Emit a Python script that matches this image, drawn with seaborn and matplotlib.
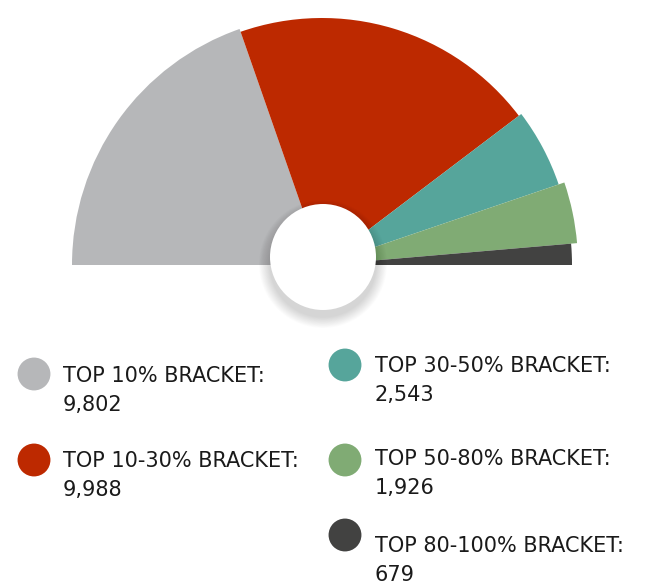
import matplotlib
matplotlib.use("Agg")
import matplotlib.pyplot as plt
import seaborn as sns
import pandas as pd
from matplotlib.patches import Circle

# data
brackets = ["TOP 10% BRACKET:", "TOP 10-30% BRACKET:", "TOP 30-50% BRACKET:",
            "TOP 50-80% BRACKET:", "TOP 80-100% BRACKET:"]
counts = [9802, 9988, 2543, 1926, 679]
colors = ["#b6b7b9", "#bd2900", "#56a59b", "#80ab74", "#424241"]

# legend layout (pixel coords, y from top)
leg_x = [34, 34, 345, 345, 345]
leg_y = [374, 460, 365, 460, 535]
txt_x = [63, 63, 375, 375, 375]
txt_base = [382, 467, 372, 465, 552]

W, H = 658, 581
sns.set_theme(style="white")
plt.rcParams['font.family'] = ['DejaVu Sans']

fig = plt.figure(figsize=(W / 100, H / 100), dpi=100)
ax = fig.add_axes([0, 0, 1, 1])

cx, cy = 322, H - 265
wedges, _ = ax.pie(counts + [sum(counts)], radius=250, center=(cx, cy),
                   startangle=180, counterclock=False,
                   colors=colors + ["white"], frame=True,
                   wedgeprops=dict(linewidth=0))
wedges[-1].set_visible(False)
wedges[1].set_radius(247)
wedges[3].set_radius(256)

# centre hole with soft shadow
hx, hy, hr = 323, H - 257, 53
for i in range(14):
    ax.add_patch(Circle((hx, hy - 7), hr + 11 - i * 0.8, color="black",
                        alpha=0.01, lw=0, zorder=5))
ax.add_patch(Circle((hx, hy), hr, color="white", lw=0, zorder=6))

# legend markers
df = pd.DataFrame({"x": leg_x, "y": [H - v for v in leg_y], "bracket": brackets})
sns.scatterplot(data=df, x="x", y="y", hue="bracket", palette=colors,
                s=560, linewidth=0, legend=False, ax=ax, zorder=7)

for lab, n, x, yb in zip(brackets, counts, txt_x, txt_base):
    ax.text(x, H - yb, lab, fontsize=15, color="#1a1a1a", va="baseline", ha="left")
    ax.text(x, H - yb - 29, f"{n:,}", fontsize=15, color="#1a1a1a", va="baseline", ha="left")

ax.set_xlim(0, W)
ax.set_ylim(0, H)
ax.set_aspect("auto")
ax.set_xlabel("")
ax.set_ylabel("")
ax.axis("off")

fig.savefig("out.png", dpi=100)
